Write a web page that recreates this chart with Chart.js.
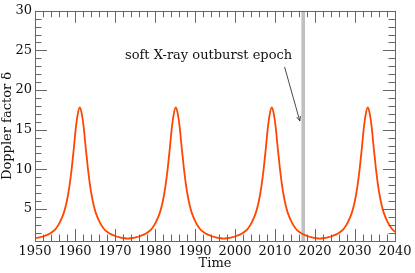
<!DOCTYPE html>
<html>
<head>
<meta charset="utf-8">
<script src="https://cdn.jsdelivr.net/npm/chart.js@4/dist/chart.umd.min.js"></script>
<style>
  html, body { margin: 0; padding: 0; background: #fff; }
  #wrap { width: 415px; height: 273px; }
</style>
</head>
<body>
<div id="wrap"><canvas id="chart" width="415" height="273"></canvas></div>
<script>
// valores
const years = [
  1950, 1951.2, 1952.2, 1953.2, 1954.2, 1955.2, 1956.2, 1957.2, 1957.7, 1958.2, 1958.7, 1959.2, 1959.7,
  1960.2, 1960.7, 1961.2, 1961.7, 1962.2, 1962.7, 1963.2, 1963.7, 1964.2, 1964.7, 1965.2, 1966.2, 1967.2,
  1968.2, 1969.2, 1970.2, 1971.2, 1972.2, 1973.2,
  1974.2, 1975.2, 1976.2, 1977.2, 1978.2, 1979.2, 1980.2, 1981.2, 1981.7, 1982.2, 1982.7, 1983.2, 1983.7,
  1984.2, 1984.7, 1985.2, 1985.7, 1986.2, 1986.7, 1987.2, 1987.7, 1988.2, 1988.7, 1989.2, 1990.2, 1991.2,
  1992.2, 1993.2, 1994.2, 1995.2, 1996.2, 1997.2,
  1998.2, 1999.2, 2000.2, 2001.2, 2002.2, 2003.2, 2004.2, 2005.2, 2005.7, 2006.2, 2006.7, 2007.2, 2007.7,
  2008.2, 2008.7, 2009.2, 2009.7, 2010.2, 2010.7, 2011.2, 2011.7, 2012.2, 2012.7, 2013.2, 2014.2, 2015.2,
  2016.2, 2017.2, 2018.2, 2019.2, 2020.2, 2021.2,
  2022.2, 2023.2, 2024.2, 2025.2, 2026.2, 2027.2, 2028.2, 2029.2, 2029.7, 2030.2, 2030.7, 2031.2, 2031.7,
  2032.2, 2032.7, 2033.2, 2033.7, 2034.2, 2034.7, 2035.2, 2035.7, 2036.2, 2036.7, 2037.2, 2038.2, 2039.2,
  2040
];
const delta = [
  1.30, 1.42, 1.55, 1.75, 2.05, 2.5, 3.3, 4.5, 5.4, 6.6, 8.2, 10.2, 12.6,
  15.2, 17.0, 17.8, 17.0, 15.2, 12.6, 10.2, 8.2, 6.6, 5.4, 4.5, 3.3, 2.5,
  2.05, 1.75, 1.55, 1.42, 1.32, 1.25,
  1.32, 1.42, 1.55, 1.75, 2.05, 2.5, 3.3, 4.5, 5.4, 6.6, 8.2, 10.2, 12.6,
  15.2, 17.0, 17.8, 17.0, 15.2, 12.6, 10.2, 8.2, 6.6, 5.4, 4.5, 3.3, 2.5,
  2.05, 1.75, 1.55, 1.42, 1.32, 1.25,
  1.32, 1.42, 1.55, 1.75, 2.05, 2.5, 3.3, 4.5, 5.4, 6.6, 8.2, 10.2, 12.6,
  15.2, 17.0, 17.8, 17.0, 15.2, 12.6, 10.2, 8.2, 6.6, 5.4, 4.5, 3.3, 2.5,
  2.05, 1.75, 1.55, 1.42, 1.32, 1.25,
  1.32, 1.42, 1.55, 1.75, 2.05, 2.5, 3.3, 4.5, 5.4, 6.6, 8.2, 10.2, 12.6,
  15.2, 17.0, 17.8, 17.0, 15.2, 12.6, 10.2, 8.2, 6.6, 5.4, 4.5, 3.3, 2.5,
  2.1
];

const xTicks = [1950, 1960, 1970, 1980, 1990, 2000, 2010, 2020, 2030, 2040];
const yTicks = [5, 10, 15, 20, 25, 30];

// banda gris del estallido y anotacion
const outburstEpoch = [2016.6, 2017.5];
const annotText = 'soft X-ray outburst epoch';
const annotTextPos = [1993.4, 24.3];
const arrowFrom = [2012.4, 22.9];
const arrowTo = [2016.2, 16.1];

const serif = '"DejaVu Serif", serif';
const fontSize = 13;

// ticks hacia dentro en los cuatro lados + banda + flecha
const decoPlugin = {
  id: 'deco',
  beforeDatasetsDraw(chart) {
    const { ctx, chartArea: a, scales: { x } } = chart;
    ctx.save();
    ctx.fillStyle = '#bfbfbf';
    const x0 = x.getPixelForValue(outburstEpoch[0]);
    const x1 = x.getPixelForValue(outburstEpoch[1]);
    ctx.fillRect(x0, a.top, x1 - x0, a.bottom - a.top);
    ctx.restore();
  },
  afterDatasetsDraw(chart) {
    const { ctx, chartArea: a, scales: { x, y } } = chart;
    ctx.save();
    ctx.strokeStyle = '#666';
    ctx.lineWidth = 1;
    ctx.beginPath();
    for (let v = 1950; v <= 2040; v += 2) {
      const px = Math.round(x.getPixelForValue(v)) + 0.5;
      const len = v % 10 === 0 ? 12 : 6.5;
      ctx.moveTo(px, a.bottom); ctx.lineTo(px, a.bottom - len);
      ctx.moveTo(px, a.top); ctx.lineTo(px, a.top + len);
    }
    for (let v = 1; v <= 30; v += 1) {
      const py = Math.round(y.getPixelForValue(v)) + 0.5;
      const len = v % 5 === 0 ? 12 : 6.5;
      ctx.moveTo(a.left, py); ctx.lineTo(a.left + len, py);
      ctx.moveTo(a.right, py); ctx.lineTo(a.right - len, py);
    }
    ctx.stroke();
    ctx.strokeRect(Math.round(a.left) + 0.5, Math.round(a.top) + 0.5,
      Math.round(a.right - a.left), Math.round(a.bottom - a.top));

    // texto
    ctx.fillStyle = '#111';
    ctx.font = fontSize + 'px ' + serif;
    ctx.textAlign = 'center';
    ctx.textBaseline = 'middle';
    ctx.fillText(annotText, x.getPixelForValue(annotTextPos[0]), y.getPixelForValue(annotTextPos[1]));

    // flecha
    const ax = x.getPixelForValue(arrowFrom[0]), ay = y.getPixelForValue(arrowFrom[1]);
    const bx = x.getPixelForValue(arrowTo[0]), by = y.getPixelForValue(arrowTo[1]);
    const ang = Math.atan2(by - ay, bx - ax);
    ctx.strokeStyle = '#333';
    ctx.lineWidth = 0.9;
    ctx.beginPath();
    ctx.moveTo(ax, ay); ctx.lineTo(bx, by);
    ctx.moveTo(bx - 5 * Math.cos(ang - 0.4), by - 5 * Math.sin(ang - 0.4));
    ctx.lineTo(bx, by);
    ctx.lineTo(bx - 5 * Math.cos(ang + 0.4), by - 5 * Math.sin(ang + 0.4));
    ctx.stroke();
    ctx.restore();
  }
};

new Chart(document.getElementById('chart'), {
  type: 'line',
  data: {
    datasets: [{
      data: years.map((t, i) => ({ x: t, y: delta[i] })),
      borderColor: '#ff4500',
      borderWidth: 1.8,
      pointRadius: 0,
      cubicInterpolationMode: 'monotone',
      fill: false
    }]
  },
  options: {
    responsive: false,
    animation: false,
    layout: { padding: { left: 0, right: 20, top: 8, bottom: 0 } },
    plugins: { legend: { display: false }, tooltip: { enabled: false } },
    scales: {
      x: {
        type: 'linear',
        min: 1950, max: 2040,
        afterBuildTicks: s => { s.ticks = xTicks.map(v => ({ value: v })); },
        afterFit: s => { s.height = 32; },
        grid: { drawOnChartArea: false, drawTicks: false },
        border: { display: false },
        ticks: {
          padding: 3,
          color: '#111',
          maxRotation: 0,
          font: { family: serif, size: fontSize },
          callback: v => String(v)
        },
        title: {
          display: true, text: 'Time', color: '#111',
          font: { family: serif, size: fontSize },
          padding: { top: 0, bottom: 2 }
        }
      },
      y: {
        type: 'linear',
        min: 0.95, max: 30,
        afterBuildTicks: s => { s.ticks = yTicks.map(v => ({ value: v })); },
        afterFit: s => { s.width = 35; },
        grid: { drawOnChartArea: false, drawTicks: false },
        border: { display: false },
        ticks: {
          padding: 3,
          color: '#111',
          font: { family: serif, size: fontSize },
          callback: v => String(v)
        },
        title: {
          display: true, text: 'Doppler factor δ', color: '#111',
          font: { family: serif, size: fontSize },
          padding: { top: 0, bottom: 1 }
        }
      }
    }
  },
  plugins: [decoPlugin]
});
</script>
</body>
</html>
